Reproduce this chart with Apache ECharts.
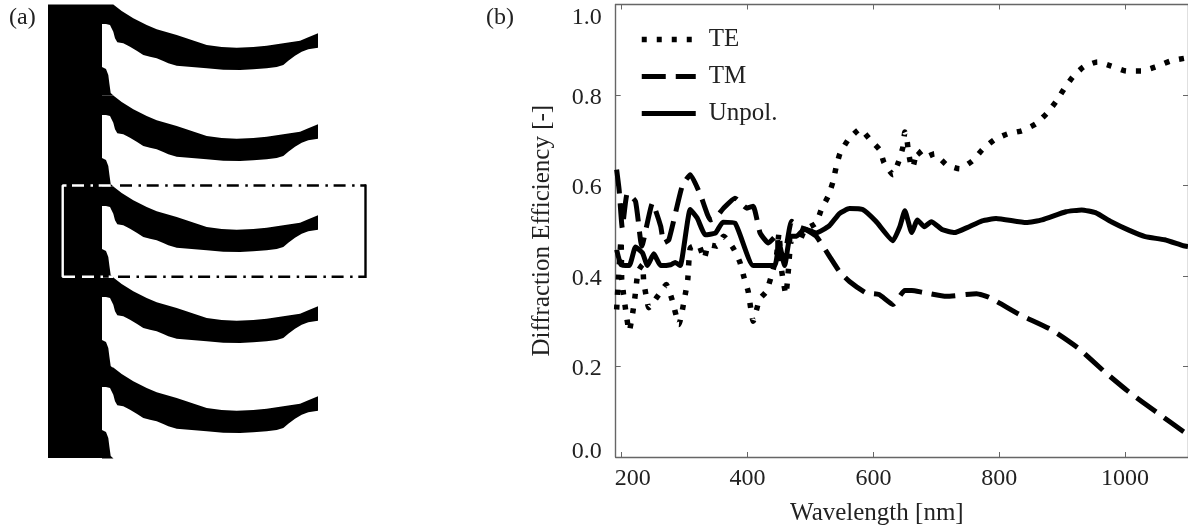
<!DOCTYPE html>
<html>
<head>
<meta charset="utf-8">
<style>html,body{margin:0;padding:0;background:#fff}#main{width:1188px;height:531px}</style>
<script src="https://cdn.jsdelivr.net/npm/echarts@6/dist/echarts.min.js"></script>
</head>
<body>
<div id="main"></div>
<script>
// panel (b): spectra
var teNm = [192,199,200,201,203,212,220,226,233,235,239,243,259,271,280,291,301,305,309,322,331,338,351,362,378,388,394,401,409,419,430,437,446,450,454,461,465,470,483,491,509,517,528,536,541,547,560,579,595,610,617,631,640,647,650,653,656,661,664,670,681,697,716,737,757,773,792,813,836,858,876,890,903,917,934,956,978,1002,1026,1048,1072,1094,1100]
var teEff = [.326,.480,.392,.385,.359,.278,.341,.410,.425,.388,.355,.330,.359,.381,.348,.293,.359,.392,.462,.469,.438,.469,.466,.488,.460,.430,.399,.366,.300,.348,.366,.396,.444,.495,.414,.359,.414,.480,.480,.502,.517,.546,.576,.609,.642,.671,.701,.725,.701,.679,.650,.624,.652,.685,.718,.705,.672,.639,.646,.677,.661,.670,.646,.637,.654,.679,.701,.714,.721,.736,.760,.785,.813,.840,.862,.873,.864,.853,.853,.862,.875,.881,.882]
var tmNm = [192,196,201,209,222,232,249,262,267,275,296,309,325,341,349,362,380,399,409,420,433,447,449,459,470,483,491,509,530,546,562,588,609,631,650,661,678,716,764,784,832,882,926,966,1005,1048,1092,1100]
var tmEff = [.635,.590,.506,.583,.565,.466,.561,.510,.473,.480,.598,.624,.580,.524,.528,.550,.572,.550,.554,.495,.473,.491,.444,.447,.521,.508,.504,.488,.444,.410,.388,.363,.359,.337,.368,.368,.364,.355,.361,.353,.315,.282,.240,.190,.145,.101,.057,.050]
var unNm = [192,199,212,222,233,241,251,262,278,285,293,309,320,333,349,361,380,409,443,450,459,468,478,491,509,530,546,562,583,604,631,642,650,661,670,681,692,710,729,749,773,795,843,868,906,931,953,978,1005,1032,1063,1092,1100]
var unEff = [.458,.425,.423,.464,.451,.423,.449,.423,.425,.430,.423,.547,.528,.491,.495,.519,.517,.423,.423,.473,.423,.488,.488,.504,.495,.511,.538,.549,.547,.521,.478,.509,.544,.496,.524,.509,.520,.502,.496,.507,.522,.527,.518,.524,.542,.546,.540,.520,.502,.487,.480,.467,.465]
var xTicks = [200,400,600,800,1000]
var yTicks = [0,.2,.4,.6,.8,1]

// panel (a): grating profile, image units of one period
var columnX = [48,102,102,48]
var columnY = [4.5,4.5,458,458]
var finX = [102,113.3,121.7,133.3,146.7,156.7,176.7,191.7,206.7,221.7,236.7,253.3,266.7,283.3,300,308.3,318,318,308.3,301.7,295,288.3,283.3,276.7,266.7,253.3,240,223.3,206.7,191.7,176.7,168.3,163.3,156.7,150,143.3,136.7,130,123.3,117.3,115,113.3,110,106,102]
var finY = [4.5,4.5,11,18.3,25,29.3,35,40,45,47,47.7,47,45.7,43.3,40.7,37.3,33.3,47.7,49.3,51.7,55.7,60.7,65,67,68.3,69.3,70,69.7,68.3,67,65.7,63.3,61,58.3,56.7,55,50.7,46.7,43.3,42.3,38.3,31.7,25,24,24]
var bumpX = [102,106,108.3,109.3,110.7,113.5,102]
var bumpY = [67,69,75,83,93,95.5,95.5]
var finShift = [0,91,182,273,363]
var boxBlackTopX = [120,366]
var boxBlackTopY = [185.5,185.5]
var boxBlackBottomX = [118,366]
var boxBlackBottomY = [276.7,276.7]
var boxRightX = [365.5,365.5]
var boxRightY = [184.5,278]
var boxWhiteTopX = [72,113]
var boxWhiteBottomX = [82,113]
var boxLeftX = [66.5,62.7,62.7,75]
var boxLeftY = [185.5,185.5,276.7,276.7]

function zip(a, b) {
  return a.map(function (v, i) { return [v, b[i]] })
}
function polygon(xs, ys) {
  return function (params, api) {
    var pts = xs.map(function (x, i) { return api.coord([x, ys[i] + api.value(0)]) })
    return { type: 'polygon', shape: { points: pts }, style: { fill: '#000' } }
  }
}
function profile(xs, ys, data) {
  return { type: 'custom', xAxisIndex: 0, yAxisIndex: 0, coordinateSystem: 'cartesian2d', clip: false, silent: true,
    encode: { x: 0, y: 0 }, data: data, renderItem: polygon(xs, ys) }
}
function boxLine(xs, ys, color, dash) {
  return { type: 'line', xAxisIndex: 0, yAxisIndex: 0, data: zip(xs, ys), symbol: 'none', silent: true, z: 5,
    lineStyle: { color: color, width: 2.4, type: dash ? [12, 6.5, 2.5, 5.7] : 'solid' } }
}
function spectrum(name, xs, ys, dash, width) {
  return { name: name, type: 'line', xAxisIndex: 1, yAxisIndex: 1, data: zip(xs, ys), symbol: 'none', smooth: 0.15, z: 4,
    lineStyle: { color: '#000', width: width, type: dash, join: 'miter', miterLimit: 3 },
    itemStyle: { color: '#000' } }
}

var serif = '"Liberation Serif","Times New Roman",serif'
var ink = '#222'
var spine = { show: true, onZero: false, lineStyle: { color: '#666', width: 1.4 } }
var tick = { show: true, inside: true, length: 5, lineStyle: { color: '#666', width: 1 } }
var label = { fontFamily: serif, fontSize: 24, color: ink }

var option = {
  animation: false,
  backgroundColor: '#fff',
  title: [
    { text: '(a)', left: 4, top: 1, textStyle: { fontFamily: serif, fontSize: 24, fontWeight: 'normal', color: ink } },
    { text: '(b)', left: 481, top: 1, textStyle: { fontFamily: serif, fontSize: 24, fontWeight: 'normal', color: ink } }
  ],
  legend: {
    data: ['TE', 'TM', 'Unpol.'], orient: 'vertical', left: 634, top: 22, itemWidth: 54, itemHeight: 14, itemGap: 12,
    lineStyle: { width: 'inherit', type: 'inherit', color: 'inherit' },
    itemStyle: { color: 'rgba(0,0,0,0)', borderWidth: 0 },
    textStyle: { fontFamily: serif, fontSize: 25, color: ink, padding: [0, 0, 0, 8] }
  },
  grid: [
    { left: 0, top: 0, width: 380, height: 531 },
    { left: 615.7, top: 4.5, width: 574.1, height: 453.5 }
  ],
  xAxis: [
    { type: 'value', gridIndex: 0, show: false, min: 0, max: 380 },
    { type: 'value', gridIndex: 1, position: 'bottom', min: 190.5, max: 1100, splitLine: { show: false },
      axisLine: spine,
      axisTick: Object.assign({ customValues: xTicks }, tick),
      axisLabel: { customValues: xTicks, margin: 10, fontFamily: serif, fontSize: 24, color: ink,
        formatter: function (v) { return v === 200 ? '{first|200}' : String(v) },
        rich: { first: Object.assign({ padding: [0, 0, 0, 22] }, label) } },
      name: 'Wavelength [nm]', nameLocation: 'middle', nameGap: 44,
      nameTextStyle: { fontFamily: serif, fontSize: 25, color: ink, padding: [0, 50, 0, 0] } },
    { type: 'value', gridIndex: 1, position: 'top', min: 190.5, max: 1100, splitLine: { show: false },
      axisLine: spine, axisLabel: { show: false }, axisTick: Object.assign({ customValues: xTicks }, tick) }
  ],
  yAxis: [
    { type: 'value', gridIndex: 0, show: false, min: 0, max: 531, inverse: true },
    { type: 'value', gridIndex: 1, position: 'left', min: 0, max: 1, splitLine: { show: false },
      axisLine: spine,
      axisTick: Object.assign({ customValues: yTicks }, tick),
      axisLabel: { customValues: yTicks, margin: 14, fontFamily: serif, fontSize: 24, color: ink,
        formatter: function (v) {
          var s = v.toFixed(1)
          return (v === 1 ? '{top|' : v === 0 ? '{bot|' : '{mid|') + s + '}'
        },
        rich: {
          top: Object.assign({ padding: [26, 0, 0, 0] }, label),
          mid: Object.assign({ padding: [5, 0, 0, 0] }, label),
          bot: Object.assign({ padding: [0, 0, 10, 0] }, label)
        } },
      name: 'Diffraction Efficiency [-]', nameLocation: 'middle', nameGap: 61,
      nameTextStyle: { fontFamily: serif, fontSize: 25, color: ink } },
    { type: 'value', gridIndex: 1, position: 'right', min: 0, max: 1, splitLine: { show: false },
      axisLine: spine, axisLabel: { show: false }, axisTick: Object.assign({ customValues: yTicks }, tick) }
  ],
  series: [
    profile(columnX, columnY, [0]),
    profile(finX, finY, finShift),
    profile(bumpX, bumpY, finShift),
    boxLine(boxBlackTopX, boxBlackTopY, '#000', true),
    boxLine(boxBlackBottomX, boxBlackBottomY, '#000', true),
    boxLine(boxRightX, boxRightY, '#000', false),
    boxLine(boxWhiteTopX, boxBlackTopY, '#fff', true),
    boxLine(boxWhiteBottomX, boxBlackBottomY, '#fff', true),
    boxLine(boxLeftX, boxLeftY, '#fff', false),
    spectrum('TE', teNm, teEff, [5, 10], 5.5),
    spectrum('TM', tmNm, tmEff, [24, 10], 5),
    spectrum('Unpol.', unNm, unEff, 'solid', 5)
  ]
}
echarts.init(document.getElementById('main')).setOption(option)
</script>
</body>
</html>
